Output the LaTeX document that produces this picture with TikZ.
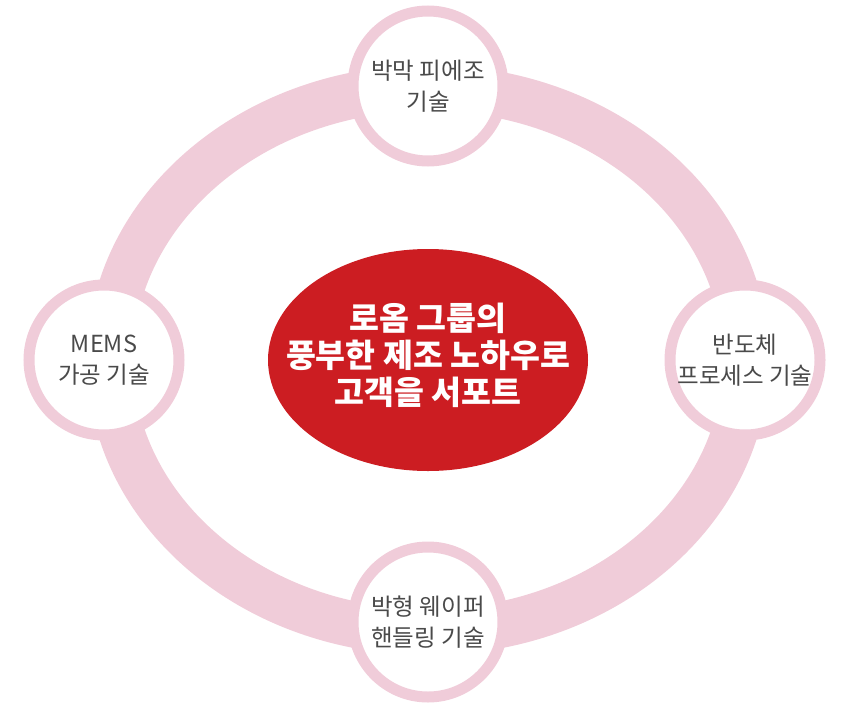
\documentclass[tikz,border=0pt]{standalone}
\usetikzlibrary{shapes.geometric}
\usepackage{fontspec}
\setmainfont{Noto Sans CJK KR}
\definecolor{ringpink}{HTML}{F0CCD9}
\definecolor{cred}{HTML}{CC1D22}
\definecolor{txt}{HTML}{4A4A4A}
\begin{document}
\begin{tikzpicture}[x=1pt,y=-1pt,
  sat/.style={circle,fill=white,draw=ringpink,line width=11pt,minimum size=150pt,inner sep=0pt,align=center,font=\fontsize{23.5}{31}\selectfont,text=txt}]
\useasboundingbox (0,0) rectangle (856,720);
\draw[ringpink,line width=46pt] (428,360) ellipse [x radius=318, y radius=272];
\node[ellipse,fill=cred,minimum width=320pt,minimum height=222pt,inner sep=0pt] (c) at (428,360) {};
\node[align=center,text=white,font=\bfseries\fontsize{32.5}{37}\selectfont] (ct) at (428,355) {로옴 그룹의\\풍부한 제조 노하우로\\고객을 서포트};
\node[sat] (t) at (428,86) {박막 피에조\\기술};
\node[sat] (l) at (104,360) {MEMS\\가공 기술};
\node[sat] (r) at (745,360) {반도체\\프로세스 기술};
\node[sat] (b) at (428,622) {박형 웨이퍼\\핸들링 기술};
\end{tikzpicture}
\end{document}
